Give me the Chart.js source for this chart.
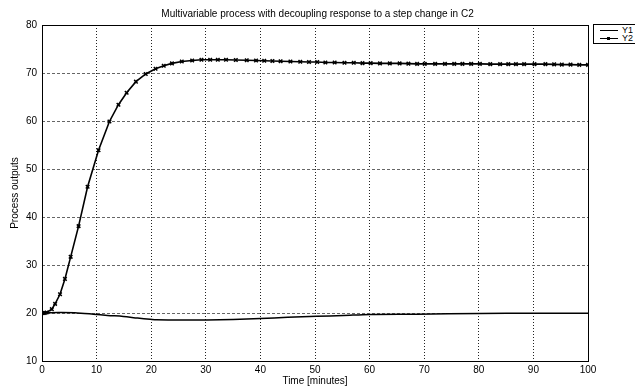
<!DOCTYPE html>
<html>
<head>
<meta charset="utf-8">
<script src="https://cdn.jsdelivr.net/npm/chart.js@4.4.1/dist/chart.umd.min.js"></script>
<style>
  html, body { margin: 0; padding: 0; background: #fff; }
  #wrap { position: relative; width: 635px; height: 387px; }
  #legend {
    position: absolute; left: 593px; top: 24px; width: 44px; height: 18px;
    border: 1px solid #000; background: #fff;
    font: 9px "Liberation Sans", Arial, sans-serif; color: #000;
  }
  .row { position: absolute; left: 0; height: 9px; width: 44px; }
  .row .ln { position: absolute; left: 6px; top: 4px; width: 18px; border-top: 1px solid #000; }
  .row .mk { position: absolute; left: 13px; top: 3px; width: 3px; height: 3px; background: #000; }
  .row span { position: absolute; left: 28px; top: 0; line-height: 9px; }
</style>
</head>
<body>
<div id="wrap">
  <canvas id="lineChart"></canvas>
  <div id="legend">
    <div class="row" style="top:1px"><div class="ln"></div><span>Y1</span></div>
    <div class="row" style="top:9px"><div class="ln"></div><div class="mk"></div><span>Y2</span></div>
  </div>
</div>
<script>
// Y2 samples (solver steps, each one drawn with a marker)
const timeY2 = [0, 0.2, 0.5, 0.85, 1.8, 2.4, 3.3, 4.2, 5.25, 6.7, 8.35, 10.35, 12.35, 14.0, 15.5, 17.2,
  19.0, 20.8, 22.3, 23.8, 25.6, 27.5, 29.2, 30.8, 32.2, 33.7, 35.5, 37.5, 39.2, 40.7, 42.2, 43.7,
  45.5, 47.3, 48.9, 50.4, 51.9, 53.6, 55.4, 57.1, 58.7, 60.2, 61.9, 63.7, 65.5, 67.1, 68.7, 70.1,
  72.0, 73.8, 75.5, 77.0, 78.6, 80.2, 82.1, 83.9, 85.4, 86.8, 88.3, 90.2, 92.2, 93.8, 95.2, 96.8,
  98.4, 100];
const valuesY2 = [20.0, 20.0, 20.0, 20.1, 20.8, 21.9, 23.9, 27.1, 31.7, 38.1, 46.3, 53.9, 59.9, 63.4, 65.9, 68.2,
  69.8, 70.9, 71.5, 72.0, 72.4, 72.6, 72.75, 72.75, 72.75, 72.75, 72.7, 72.65, 72.6, 72.55, 72.5, 72.45,
  72.4, 72.35, 72.3, 72.3, 72.2, 72.2, 72.15, 72.15, 72.05, 72.05, 72.0, 72.0, 72.0, 71.95, 71.9, 71.9,
  71.9, 71.9, 71.9, 71.9, 71.9, 71.9, 71.85, 71.85, 71.85, 71.85, 71.85, 71.85, 71.85, 71.8, 71.75, 71.75,
  71.7, 71.7];

// Y1 samples (plain line)
const timeY1 = [0, 3, 6, 9.4, 12, 14.9, 17.5, 19.8, 21, 25, 30.2, 35, 40, 45, 50.3, 55.2, 60, 68.6, 80.2, 90, 100];
const valuesY1 = [20.0, 20.1, 20.05, 19.76, 19.5, 19.27, 18.95, 18.7, 18.58, 18.55, 18.55, 18.65, 18.85, 19.1, 19.3,
  19.48, 19.69, 19.76, 19.9, 19.95, 19.95];

const xTicks = [0, 10, 20, 30, 40, 50, 60, 70, 80, 90, 100];
const yTicks = [10, 20, 30, 40, 50, 60, 70, 80];

const toPoints = (xs, ys) => xs.map((x, i) => ({ x, y: ys[i] }));

// box around the axes, like matlab's "box on"
const boxPlugin = {
  id: "axesBox",
  afterDraw(chart) {
    const { ctx, chartArea: a } = chart;
    ctx.save();
    ctx.strokeStyle = "#000";
    ctx.lineWidth = 1;
    ctx.strokeRect(a.left + 0.5, a.top + 0.5, a.right - a.left, a.bottom - a.top);
    ctx.restore();
  },
};

const font = { family: "'Liberation Sans', Arial, sans-serif", size: 10 };

new Chart(document.getElementById("lineChart"), {
  type: "line",
  data: {
    datasets: [
      {
        label: "Y1",
        data: toPoints(timeY1, valuesY1),
        borderColor: "#000",
        borderWidth: 1.5,
        pointRadius: 0,
        tension: 0.3,
      },
      {
        label: "Y2",
        data: toPoints(timeY2, valuesY2),
        borderColor: "#000",
        backgroundColor: "#000",
        borderWidth: 1.6,
        pointStyle: "crossRot",
        pointRadius: 2.5,
        pointBorderWidth: 1.5,
        tension: 0,
      },
    ],
  },
  options: {
    responsive: true,
    maintainAspectRatio: false,
    animation: false,
    plugins: {
      legend: { display: false },
      tooltip: { enabled: false },
      title: {
        display: true,
        text: "Multivariable process with decoupling response to a step change in C2",
        color: "#000",
        font: { ...font, weight: "normal" },
        padding: { top: 8, bottom: 5 },
      },
    },
    scales: {
      x: {
        type: "linear",
        min: 0,
        max: 100,
        afterBuildTicks: (s) => { s.ticks = xTicks.map((v) => ({ value: v })); },
        afterFit: (s) => { s.height = 26; },
        ticks: { color: "#000", font, padding: 3, maxRotation: 0 },
        grid: { color: "#222", lineWidth: 1, drawTicks: false },
        border: { display: false, dash: [1, 2] },
        title: { display: true, text: "Time [minutes]", color: "#000", font, padding: { top: -2, bottom: 0 } },
      },
      y: {
        type: "linear",
        min: 10,
        max: 80,
        afterBuildTicks: (s) => { s.ticks = yTicks.map((v) => ({ value: v })); },
        afterFit: (s) => { s.width = 42; },
        ticks: { color: "#000", font, padding: 5 },
        grid: { color: "#666", lineWidth: 1, drawTicks: false },
        border: { display: false, dash: [3, 2] },
        title: { display: true, text: "Process outputs", color: "#000", font, padding: { top: 9, bottom: 0 } },
      },
      // empty right-hand axis: keeps room for the legend
      yRight: {
        type: "linear",
        position: "right",
        display: true,
        afterFit: (s) => { s.width = 47; },
        ticks: { display: false },
        grid: { display: false },
        border: { display: false },
      },
    },
  },
  plugins: [boxPlugin],
});
</script>
</body>
</html>
